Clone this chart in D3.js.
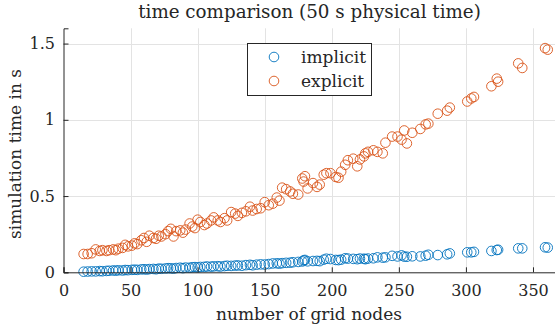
<!DOCTYPE html>
<html>
<head>
<meta charset="utf-8">
<script src="https://cdn.jsdelivr.net/npm/d3@7"></script>
<style>
  body { margin: 0; background: #fff; }
  svg { display: block; }
</style>
</head>
<body>
<script>
var nodes = [15, 18, 21, 24, 27, 29, 32, 34, 37, 39, 41, 44, 46, 48, 51, 53, 55, 58, 60, 62,
  64, 67, 69, 71, 73, 76, 78, 80, 82, 84, 87, 89, 91, 94, 96, 98, 100, 102, 105, 107,
  110, 112, 115, 117, 120, 122, 125, 128, 130, 133, 136, 139, 141, 144, 147, 150, 153, 156, 159, 161,
  163, 166, 169, 171, 175, 178, 179, 180, 182, 186, 189, 191, 194, 196, 199, 203, 205, 207, 210, 212,
  216, 219, 221, 224, 225, 227, 231, 234, 238, 240, 245, 249, 252, 254, 256, 260, 266, 270, 272, 279,
  286, 288, 301, 304, 306, 319, 323, 324, 339, 342, 359, 361];

var implicitTime = [0.004, 0.005, 0.006, 0.006, 0.008, 0.007, 0.009, 0.010, 0.012, 0.011, 0.013, 0.012, 0.015, 0.014, 0.016, 0.017, 0.016, 0.019, 0.020, 0.018,
  0.021, 0.022, 0.020, 0.024, 0.023, 0.025, 0.027, 0.026, 0.024, 0.028, 0.030, 0.027, 0.031, 0.030, 0.033, 0.034, 0.032, 0.035, 0.036, 0.038,
  0.037, 0.039, 0.040, 0.038, 0.041, 0.043, 0.042, 0.044, 0.045, 0.043, 0.047, 0.049, 0.046, 0.050, 0.052, 0.051, 0.054, 0.058, 0.059, 0.057,
  0.060, 0.062, 0.063, 0.066, 0.068, 0.071, 0.078, 0.081, 0.072, 0.074, 0.075, 0.073, 0.083, 0.089, 0.087, 0.081, 0.080, 0.083, 0.092, 0.090,
  0.088, 0.086, 0.090, 0.089, 0.086, 0.090, 0.092, 0.098, 0.096, 0.098, 0.108, 0.104, 0.111, 0.103, 0.102, 0.105, 0.104, 0.109, 0.115, 0.113,
  0.118, 0.124, 0.131, 0.131, 0.134, 0.140, 0.146, 0.148, 0.157, 0.157, 0.164, 0.162];

var explicitTime = [0.120, 0.120, 0.125, 0.150, 0.140, 0.145, 0.140, 0.145, 0.150, 0.145, 0.155, 0.160, 0.180, 0.170, 0.175, 0.190, 0.185, 0.210, 0.225, 0.200,
  0.240, 0.225, 0.220, 0.240, 0.235, 0.250, 0.270, 0.285, 0.235, 0.270, 0.275, 0.260, 0.280, 0.320, 0.300, 0.290, 0.345, 0.330, 0.310, 0.320,
  0.340, 0.360, 0.340, 0.330, 0.355, 0.340, 0.395, 0.385, 0.370, 0.390, 0.400, 0.430, 0.405, 0.415, 0.420, 0.460, 0.440, 0.450, 0.490, 0.470,
  0.555, 0.545, 0.530, 0.515, 0.510, 0.615, 0.595, 0.630, 0.550, 0.585, 0.560, 0.575, 0.640, 0.650, 0.650, 0.625, 0.620, 0.660, 0.705, 0.735,
  0.745, 0.695, 0.740, 0.760, 0.780, 0.790, 0.800, 0.790, 0.780, 0.850, 0.890, 0.890, 0.870, 0.930, 0.845, 0.915, 0.940, 0.970, 0.975, 1.040,
  1.060, 1.080, 1.120, 1.140, 1.150, 1.220, 1.270, 1.250, 1.370, 1.340, 1.470, 1.460];

var xTicks = [0, 50, 100, 150, 200, 250, 300, 350];
var yTicks = [0, 0.5, 1, 1.5];
var seriesNames = ["implicit", "explicit"];
var seriesColors = ["#0072BD", "#D95319"];

var FONT = "DejaVu Serif";

function main() {
  var width = 555, height = 332;
  var left = 63.5, top = 28.3, bottom = 272.3;

  var svg = d3.select("body").append("svg")
    .attr("width", width)
    .attr("height", height);

  var x = d3.scaleLinear().domain([0, 367]).range([left, 63.5 + 367 * 1.3414]);
  var y = d3.scaleLinear().domain([0, 1.6]).range([bottom, top]);

  // grid
  var grid = svg.append("g").attr("stroke", "#e3e3e3").attr("stroke-width", 1);
  grid.selectAll(".gx").data(xTicks.slice(1)).enter().append("line")
    .attr("x1", function(d) { return Math.round(x(d)) + 0.5; })
    .attr("x2", function(d) { return Math.round(x(d)) + 0.5; })
    .attr("y1", top).attr("y2", bottom);
  grid.selectAll(".gy").data(yTicks.slice(1)).enter().append("line")
    .attr("y1", function(d) { return Math.round(y(d)) + 0.5; })
    .attr("y2", function(d) { return Math.round(y(d)) + 0.5; })
    .attr("x1", left).attr("x2", width);

  // points
  var data = [implicitTime, explicitTime];
  for (var s = 0; s < data.length; s++) {
    svg.append("g").selectAll("circle")
      .data(data[s])
      .enter()
      .append("circle")
      .attr("cx", function(d, i) { return x(nodes[i]); })
      .attr("cy", function(d) { return y(d); })
      .attr("r", 4.8)
      .attr("fill", "none")
      .attr("stroke", seriesColors[s])
      .attr("stroke-width", 0.9);
  }

  // axes, ticks pointing inward like matlab
  var xAxis = d3.axisBottom(x).tickValues(xTicks).tickSize(-5).tickPadding(12)
    .tickFormat(d3.format("d"));
  var gx = svg.append("g").attr("transform", "translate(0," + bottom + ")").call(xAxis);
  var yAxis = d3.axisLeft(y).tickValues(yTicks).tickSize(-5).tickPadding(8.5)
    .tickFormat(function(d) { return String(d); });
  var gy = svg.append("g").attr("transform", "translate(" + left + ",0)").call(yAxis);
  [gx, gy].forEach(function(g) {
    g.attr("font-family", FONT).attr("font-size", 16);
    g.select(".domain").attr("stroke", "#262626").attr("stroke-width", 1);
    g.selectAll(".tick line").attr("stroke", "#262626");
    g.selectAll(".tick text").attr("fill", "#262626");
  });

  // title and labels
  svg.append("text").attr("x", 309.5).attr("y", 18).attr("text-anchor", "middle")
    .attr("font-family", FONT).attr("font-size", 18.3).attr("fill", "#262626")
    .text("time comparison (50 s physical time)");
  svg.append("text").attr("x", 309).attr("y", 320).attr("text-anchor", "middle")
    .attr("font-family", FONT).attr("font-size", 17).attr("fill", "#262626")
    .text("number of grid nodes");
  svg.append("text").attr("transform", "translate(21,154) rotate(-90)")
    .attr("font-family", FONT).attr("text-anchor", "middle").attr("font-size", 17)
    .attr("fill", "#262626").text("simulation time in s");

  // legend
  var legend = svg.append("g");
  legend.append("rect").attr("x", 247.5).attr("y", 43.5).attr("width", 124).attr("height", 52)
    .attr("fill", "#fff").attr("stroke", "#262626").attr("stroke-width", 1);
  var rows = legend.selectAll(".row").data(seriesNames).enter().append("g")
    .attr("transform", function(d, i) { return "translate(0," + (57 + i * 24) + ")"; });
  rows.append("circle").attr("cx", 274).attr("cy", 0).attr("r", 4.8)
    .attr("fill", "none").attr("stroke-width", 0.9)
    .attr("stroke", function(d, i) { return seriesColors[i]; });
  rows.append("text").attr("x", 301).attr("y", 5.5).attr("font-family", FONT).attr("font-size", 17)
    .attr("fill", "#262626")
    .text(function(d) { return d; });
}
main();
</script>
</body>
</html>
